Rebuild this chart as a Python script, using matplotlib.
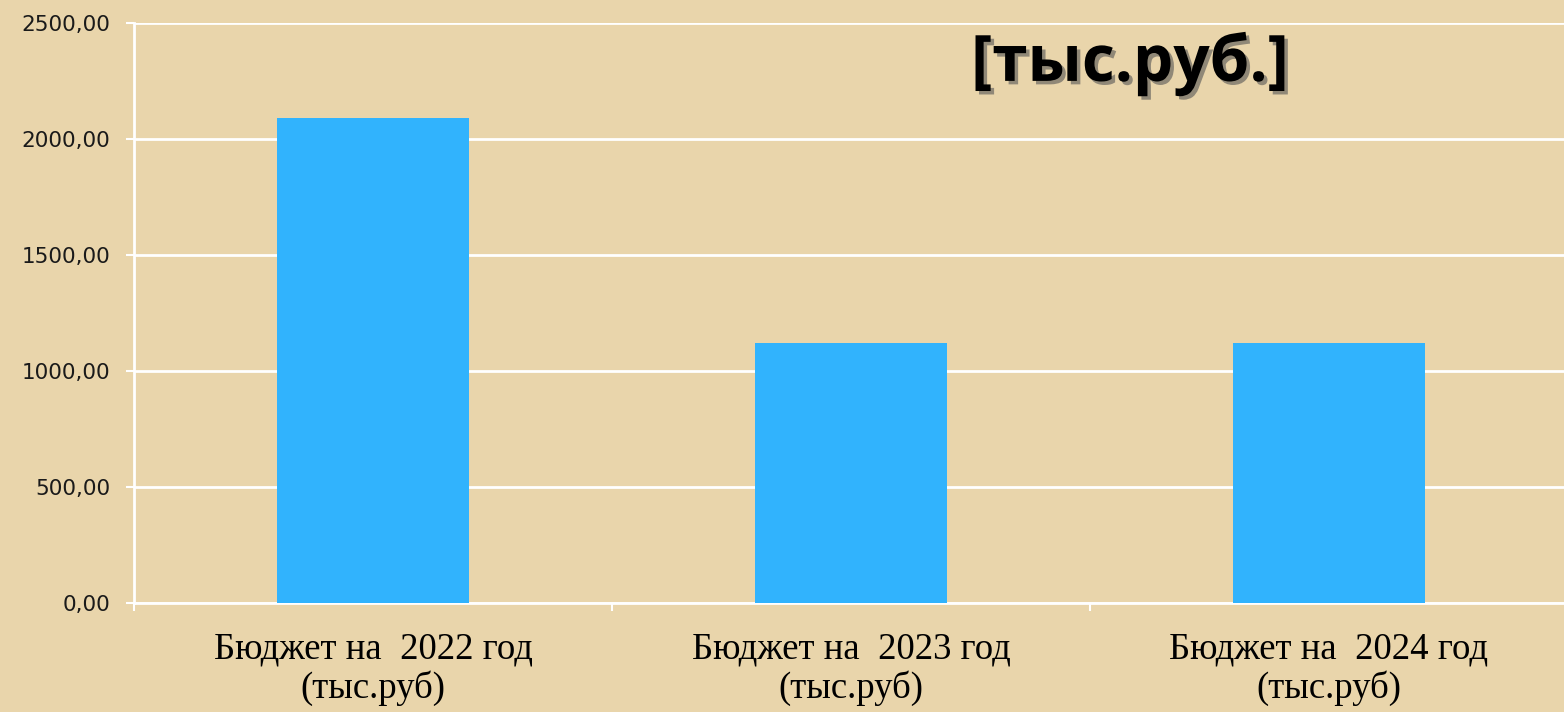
import matplotlib
matplotlib.use("Agg")
import matplotlib.pyplot as plt
import matplotlib.patheffects as pe
import numpy as np

# Chart data
categories = ["Бюджет на  2022 год\n(тыс.руб)",
              "Бюджет на  2023 год\n(тыс.руб)",
              "Бюджет на  2024 год\n(тыс.руб)"]
values = [2090.0, 1121.0, 1121.0]
y_ticks = [0, 500, 1000, 1500, 2000, 2500]
unit_label = "[тыс.руб.]"

bg = "#e9d5ab"
bar_color = "#31b3fd"

fig = plt.figure(figsize=(15.64, 7.12), dpi=100, facecolor=bg)
ax = fig.add_axes([134 / 1564, 1 - 603 / 712, 1434 / 1564, 580 / 712])
ax.set_facecolor(bg)

x = np.arange(len(categories))
ax.bar(x, values, width=0.4, color=bar_color, zorder=3)

ax.set_xlim(-0.5, len(categories) - 0.5)
ax.set_ylim(0, 2500)

# y axis
ax.set_yticks(y_ticks)
ax.set_yticklabels([f"{v:.2f}".replace(".", ",") for v in y_ticks],
                   fontsize=15.5, family="DejaVu Sans", color="#1a1a1a")
ax.tick_params(axis="y", length=6, width=1.5, color="white", pad=11)
ax.grid(axis="y", color="white", linewidth=2, zorder=1)

# x axis: ticks between categories, labels centered
ax.set_xticks(np.arange(-0.5, len(categories), 1.0))
ax.set_xticklabels([])
ax.set_xticks(x, minor=True)
ax.set_xticklabels(categories, minor=True, fontsize=26.5,
                   family="Liberation Serif", linespacing=1.15)
ax.tick_params(axis="x", which="major", length=6, width=1.5, color="white")
ax.tick_params(axis="x", which="minor", length=0, pad=21)

for side in ["top", "right"]:
    ax.spines[side].set_visible(False)
for side in ["left", "bottom"]:
    ax.spines[side].set_color("white")
    ax.spines[side].set_linewidth(2)

fig.text(1130 / 1564, 1 - 64 / 712, unit_label, fontsize=46,
         fontweight="bold", family="Open Sans", ha="center", va="center",
         path_effects=[pe.SimplePatchShadow(offset=(2.5, -2.5),
                                            shadow_rgbFace="#555555", alpha=0.6),
                       pe.Normal()])

fig.savefig("out.png", dpi=100, facecolor=bg)
